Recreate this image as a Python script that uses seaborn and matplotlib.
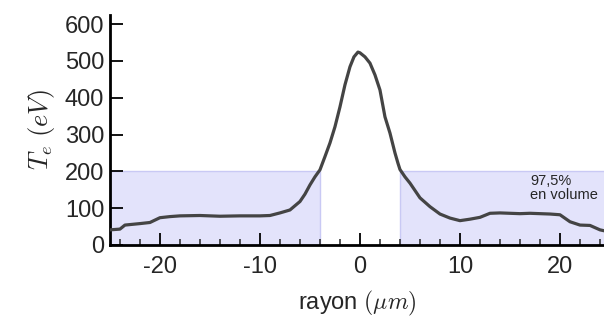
import matplotlib
matplotlib.use('Agg')
import matplotlib.pyplot as plt
from matplotlib.ticker import MultipleLocator
import pandas as pd
import seaborn as sns

rayon = [-25, -24, -23.5, -22, -21, -20, -19, -18, -16, -14, -12, -10, -9, -8, -7, -6, -5.5, -5, -4.5, -4,
         -3.5, -3, -2.5, -2, -1.5, -1, -0.6, -0.2, 0, 0.5, 1, 1.5, 2, 2.5, 3, 3.5, 3.8, 4, 4.5, 5, 6, 7, 8, 9,
         10, 11, 12, 13, 14, 15, 16, 17, 18, 19, 20, 21, 22, 23, 24, 24.5]
te = [41, 43, 54, 58, 61, 74, 77, 79, 80, 78, 79, 79, 80, 87, 95, 118, 138, 163, 185, 204,
      240, 277, 321, 375, 435, 484, 511, 524, 522, 511, 494, 462, 421, 348, 304, 250, 222, 205, 185, 168, 128, 104, 84, 73,
      66, 70, 75, 86, 87, 86, 85, 86, 85, 84, 82, 63, 54, 53, 41, 38]

zone_gauche = [-25, -4]
zone_droite = [4, 25]
seuil = 200

y_ticks = [0, 100, 200, 300, 400, 500, 600]
x_ticks = [-20, -10, 0, 10, 20]

df = pd.DataFrame({'rayon': rayon, 'te': te})

sns.set_style('ticks')
plt.rcParams['font.family'] = ['Liberation Sans', 'DejaVu Sans']
plt.rcParams['mathtext.fontset'] = 'cm'

fig = plt.figure(figsize=(6.04, 3.24), dpi=100)
ax = fig.add_axes([0.182, 0.244, 0.818, 0.71])

for zone in (zone_gauche, zone_droite):
    ax.fill_between(zone, 0, seuil, color='#e3e3fb', edgecolor='#c9c9f4', linewidth=1, zorder=0)

sns.lineplot(data=df, x='rayon', y='te', ax=ax, color='#444444', linewidth=2.3, zorder=3)

ax.text(17, 193, '97,5%\nen volume', fontsize=10.5, va='top', ha='left', linespacing=1.05)

ax.set_xlim(-25, 24.4)
ax.set_ylim(0, 625)
ax.set_xticks(x_ticks)
ax.set_yticks(y_ticks)
ax.xaxis.set_minor_locator(MultipleLocator(2))
ax.tick_params(axis='both', direction='in', labelsize=17, width=1.3, color='black')
ax.tick_params(axis='x', which='major', length=9, pad=8)
ax.tick_params(axis='x', which='minor', length=4, width=1.1, direction='in')
ax.tick_params(axis='y', which='major', length=9, pad=4)
ax.set_xticklabels([str(t) for t in x_ticks])

ax.set_xlabel(r'rayon $(\mu m)$', fontsize=17, labelpad=8)
ax.set_ylabel(r'$T_e\ (eV)$', fontsize=19, labelpad=6)

sns.despine(ax=ax)
for side in ('left', 'bottom'):
    ax.spines[side].set_linewidth(2)
    ax.spines[side].set_color('black')

fig.savefig('out.png', dpi=100)
